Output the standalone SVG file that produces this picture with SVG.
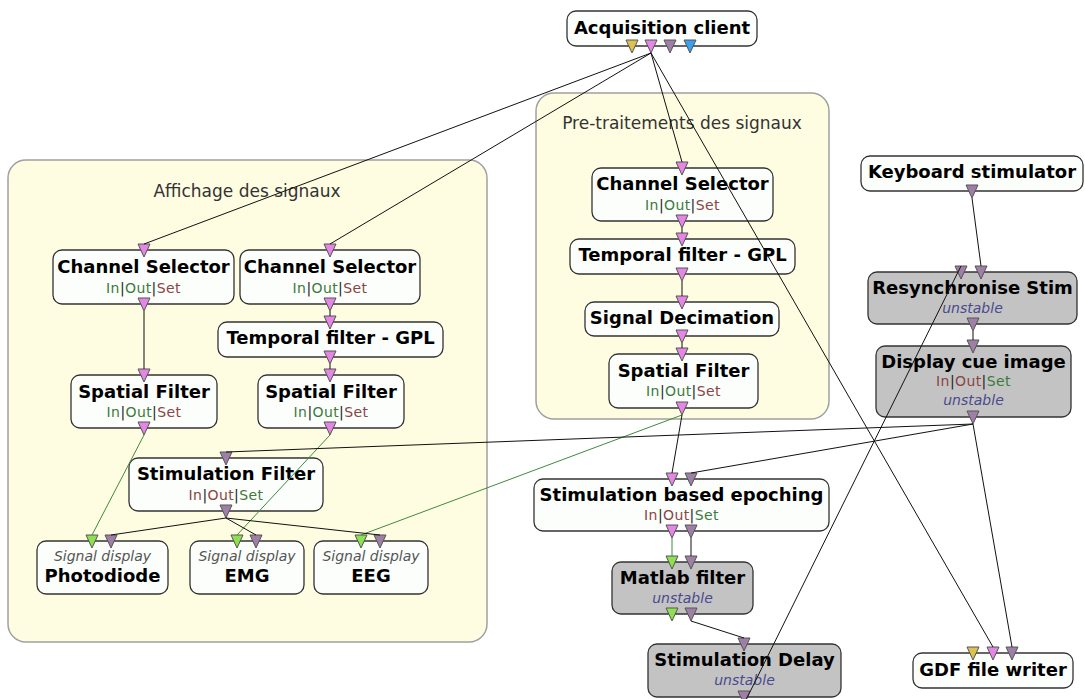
<svg xmlns="http://www.w3.org/2000/svg" xmlns:xlink="http://www.w3.org/1999/xlink" width="1085" height="699" viewBox="0 0 1085 699">
<style>
.bg{fill:#ffffff}
.grp{fill:#fefde2;stroke:#a0a0a0;stroke-width:1.5}
.gt{font-family:"DejaVu Sans",sans-serif;font-size:17px;fill:#333;text-anchor:middle}
.box{fill:#fbfefb;stroke:#333;stroke-width:1.3}
.gbox{fill:#c3c3c3;stroke:#333;stroke-width:1.3}
.t{font-family:"DejaVu Sans",sans-serif;font-weight:bold;font-size:18px;fill:#000;text-anchor:middle}
.tb{font-family:"DejaVu Sans",sans-serif;font-weight:bold;font-size:18px;fill:#000;text-anchor:middle}
.s{font-family:"DejaVu Sans",sans-serif;font-size:14px;text-anchor:middle;letter-spacing:0.4px}
.g{fill:#3d7a3d}
.r{fill:#8a4545}
.k{fill:#222}
.u{font-family:"DejaVu Sans",sans-serif;font-style:italic;font-size:14px;fill:#4a4a8e;text-anchor:middle}
.sd{font-family:"DejaVu Sans",sans-serif;font-style:italic;font-size:14px;fill:#555;text-anchor:middle}
.pk{fill:#e486e4}
.pu{fill:#9e80a6}
.ye{fill:#dcc050}
.bl{fill:#3aa0f0}
.gr{fill:#8ee052}
#conn path{fill:none;stroke:#111;stroke-width:1}
#conn path.gl{stroke:#3f8a3f}
</style>
<defs>
<path id="tri" d="M-6,0 L6,0 L0,13 Z" stroke="#555" stroke-width="1"/>
</defs>
<rect class="bg" x="0" y="0" width="1085" height="699"/>

<g id="group-affichage">
<rect class="grp" x="8" y="160" width="479" height="482" rx="18"/>
<text class="gt" x="247" y="197">Affichage des signaux</text>
</g>
<g id="group-pretraitements">
<rect class="grp" x="536" y="93" width="293" height="326" rx="18"/>
<text class="gt" x="682" y="129">Pre-traitements des signaux</text>
</g>

<g id="acquisition-client">
<rect class="box" x="567" y="11" width="190" height="35" rx="9"/>
<text class="t" x="662" y="34">Acquisition client</text>
<use href="#tri" x="632" y="40" class="ye"/>
<use href="#tri" x="651" y="40" class="pk"/>
<use href="#tri" x="670" y="40" class="pu"/>
<use href="#tri" x="690" y="40" class="bl"/>
</g>

<g id="channel-selector-1">
<rect class="box" x="53" y="250" width="181" height="54" rx="9"/>
<text class="t" x="143.5" y="273">Channel Selector</text>
<text class="s" x="143.5" y="293"><tspan class="g">In</tspan><tspan class="k">|</tspan><tspan class="g">Out</tspan><tspan class="k">|</tspan><tspan class="r">Set</tspan></text>
<use href="#tri" x="144" y="244" class="pk"/>
<use href="#tri" x="144" y="298" class="pk"/>
</g>

<g id="channel-selector-2">
<rect class="box" x="240" y="250" width="180" height="54" rx="9"/>
<text class="t" x="330" y="273">Channel Selector</text>
<text class="s" x="330" y="293"><tspan class="g">In</tspan><tspan class="k">|</tspan><tspan class="g">Out</tspan><tspan class="k">|</tspan><tspan class="r">Set</tspan></text>
<use href="#tri" x="330" y="244" class="pk"/>
<use href="#tri" x="330" y="298" class="pk"/>
</g>

<g id="temporal-filter-1">
<rect class="box" x="218" y="322" width="225" height="35" rx="9"/>
<text class="t" x="330.5" y="344">Temporal filter - GPL</text>
<use href="#tri" x="330" y="316" class="pk"/>
<use href="#tri" x="330" y="351" class="pk"/>
</g>

<g id="spatial-filter-1">
<rect class="box" x="71" y="375" width="146" height="53" rx="9"/>
<text class="t" x="144" y="398">Spatial Filter</text>
<text class="s" x="144" y="417"><tspan class="g">In</tspan><tspan class="k">|</tspan><tspan class="g">Out</tspan><tspan class="k">|</tspan><tspan class="r">Set</tspan></text>
<use href="#tri" x="144" y="369" class="pk"/>
<use href="#tri" x="144" y="422" class="pk"/>
</g>

<g id="spatial-filter-2">
<rect class="box" x="258" y="375" width="146" height="53" rx="9"/>
<text class="t" x="331" y="398">Spatial Filter</text>
<text class="s" x="331" y="417"><tspan class="g">In</tspan><tspan class="k">|</tspan><tspan class="g">Out</tspan><tspan class="k">|</tspan><tspan class="r">Set</tspan></text>
<use href="#tri" x="330" y="369" class="pk"/>
<use href="#tri" x="330" y="422" class="pk"/>
</g>

<g id="stimulation-filter">
<rect class="box" x="129" y="458" width="194" height="53" rx="9"/>
<text class="t" x="226" y="480">Stimulation Filter</text>
<text class="s" x="226" y="500"><tspan class="r">In</tspan><tspan class="k">|</tspan><tspan class="r">Out</tspan><tspan class="k">|</tspan><tspan class="g">Set</tspan></text>
<use href="#tri" x="226" y="452" class="pu"/>
<use href="#tri" x="226" y="505" class="pu"/>
</g>

<g id="signal-display-photodiode">
<rect class="box" x="37" y="541" width="131" height="53" rx="9"/>
<text class="sd" x="102.5" y="561">Signal display</text>
<text class="tb" x="102.5" y="582">Photodiode</text>
<use href="#tri" x="92" y="535" class="gr"/>
<use href="#tri" x="111" y="535" class="pu"/>
</g>

<g id="signal-display-emg">
<rect class="box" x="190" y="541" width="114" height="53" rx="9"/>
<text class="sd" x="247" y="561">Signal display</text>
<text class="tb" x="247" y="582">EMG</text>
<use href="#tri" x="237" y="535" class="gr"/>
<use href="#tri" x="256" y="535" class="pu"/>
</g>

<g id="signal-display-eeg">
<rect class="box" x="314" y="541" width="114" height="53" rx="9"/>
<text class="sd" x="371" y="561">Signal display</text>
<text class="tb" x="371" y="582">EEG</text>
<use href="#tri" x="361" y="535" class="gr"/>
<use href="#tri" x="380" y="535" class="pu"/>
</g>

<g id="channel-selector-3">
<rect class="box" x="592" y="168" width="181" height="53" rx="9"/>
<text class="t" x="682.5" y="190">Channel Selector</text>
<text class="s" x="682.5" y="210"><tspan class="g">In</tspan><tspan class="k">|</tspan><tspan class="g">Out</tspan><tspan class="k">|</tspan><tspan class="r">Set</tspan></text>
<use href="#tri" x="682" y="162" class="pk"/>
<use href="#tri" x="682" y="215" class="pk"/>
</g>

<g id="temporal-filter-2">
<rect class="box" x="570" y="239" width="225" height="35" rx="9"/>
<text class="t" x="682.5" y="261">Temporal filter - GPL</text>
<use href="#tri" x="682" y="233" class="pk"/>
<use href="#tri" x="682" y="268" class="pk"/>
</g>

<g id="signal-decimation">
<rect class="box" x="585" y="302" width="194" height="34" rx="9"/>
<text class="t" x="682" y="324">Signal Decimation</text>
<use href="#tri" x="682" y="296" class="pk"/>
<use href="#tri" x="682" y="330" class="pk"/>
</g>

<g id="spatial-filter-3">
<rect class="box" x="609" y="354" width="149" height="54" rx="9"/>
<text class="t" x="683.5" y="377">Spatial Filter</text>
<text class="s" x="683.5" y="396"><tspan class="g">In</tspan><tspan class="k">|</tspan><tspan class="g">Out</tspan><tspan class="k">|</tspan><tspan class="r">Set</tspan></text>
<use href="#tri" x="682" y="348" class="pk"/>
<use href="#tri" x="682" y="402" class="pk"/>
</g>

<g id="keyboard-stimulator">
<rect class="box" x="861" y="156" width="222" height="35" rx="9"/>
<text class="t" x="972" y="178">Keyboard stimulator</text>
<use href="#tri" x="972" y="185" class="pu"/>
</g>

<g id="resynchronise-stim">
<rect class="gbox" x="868" y="272" width="209" height="52" rx="9"/>
<text class="t" x="972.5" y="294">Resynchronise Stim</text>
<text class="u" x="972.5" y="313">unstable</text>
<use href="#tri" x="961" y="266" class="pu"/>
<use href="#tri" x="981" y="266" class="pu"/>
<use href="#tri" x="973" y="318" class="pu"/>
</g>

<g id="display-cue-image">
<rect class="gbox" x="876" y="346" width="195" height="71" rx="9"/>
<text class="t" x="973.5" y="368">Display cue image</text>
<text class="s" x="973.5" y="386"><tspan class="r">In</tspan><tspan class="k">|</tspan><tspan class="r">Out</tspan><tspan class="k">|</tspan><tspan class="g">Set</tspan></text>
<text class="u" x="973.5" y="405">unstable</text>
<use href="#tri" x="973" y="340" class="pu"/>
<use href="#tri" x="973" y="411" class="pu"/>
</g>

<g id="stimulation-based-epoching">
<rect class="box" x="534" y="479" width="295" height="52" rx="9"/>
<text class="t" x="681.5" y="501">Stimulation based epoching</text>
<text class="s" x="681.5" y="520"><tspan class="r">In</tspan><tspan class="k">|</tspan><tspan class="r">Out</tspan><tspan class="k">|</tspan><tspan class="g">Set</tspan></text>
<use href="#tri" x="672" y="473" class="pk"/>
<use href="#tri" x="691" y="473" class="pu"/>
<use href="#tri" x="672" y="525" class="pk"/>
<use href="#tri" x="691" y="525" class="pu"/>
</g>

<g id="matlab-filter">
<rect class="gbox" x="612" y="562" width="141" height="52" rx="9"/>
<text class="t" x="682.5" y="584">Matlab filter</text>
<text class="u" x="682.5" y="603">unstable</text>
<use href="#tri" x="672" y="556" class="gr"/>
<use href="#tri" x="691" y="556" class="pu"/>
<use href="#tri" x="672" y="608" class="gr"/>
<use href="#tri" x="691" y="608" class="pu"/>
</g>

<g id="stimulation-delay">
<rect class="gbox" x="648" y="644" width="193" height="53" rx="9"/>
<text class="t" x="744.5" y="666">Stimulation Delay</text>
<text class="u" x="744.5" y="685">unstable</text>
<use href="#tri" x="744" y="638" class="pu"/>
<use href="#tri" x="744" y="691" class="pu"/>
</g>

<g id="gdf-file-writer">
<rect class="box" x="913" y="653" width="160" height="35" rx="9"/>
<text class="t" x="993" y="676">GDF file writer</text>
<use href="#tri" x="973" y="647" class="ye"/>
<use href="#tri" x="993" y="647" class="pk"/>
<use href="#tri" x="1012" y="647" class="pu"/>
</g>

<g id="conn">
<path d="M651,53 L144,244"/>
<path d="M651,53 L330,244"/>
<path d="M651,53 L682,162"/>
<path d="M651,53 L993,647"/>
<path d="M144,311 L144,369"/>
<path d="M330,311 L330,316"/>
<path d="M330,364 L330,369"/>
<path d="M682,228 L682,233"/>
<path d="M682,281 L682,296"/>
<path d="M682,343 L682,348"/>
<path class="gl" d="M144,435 L92,535"/>
<path class="gl" d="M330,435 L237,535"/>
<path class="gl" d="M682,415 L361,535"/>
<path d="M682,415 L672,473"/>
<path d="M226,518 L111,535"/>
<path d="M226,518 L256,535"/>
<path d="M226,518 L380,535"/>
<path d="M973,424 L226,452"/>
<path d="M973,424 L691,473"/>
<path d="M973,424 L1012,647"/>
<path d="M972,198 L981,266"/>
<path d="M973,331 L973,340"/>
<path d="M744,704 L961,266"/>
<path class="gl" d="M672,538 L672,556"/>
<path d="M691,538 L691,556"/>
<path d="M691,621 L744,638"/>
</g>
</svg>
